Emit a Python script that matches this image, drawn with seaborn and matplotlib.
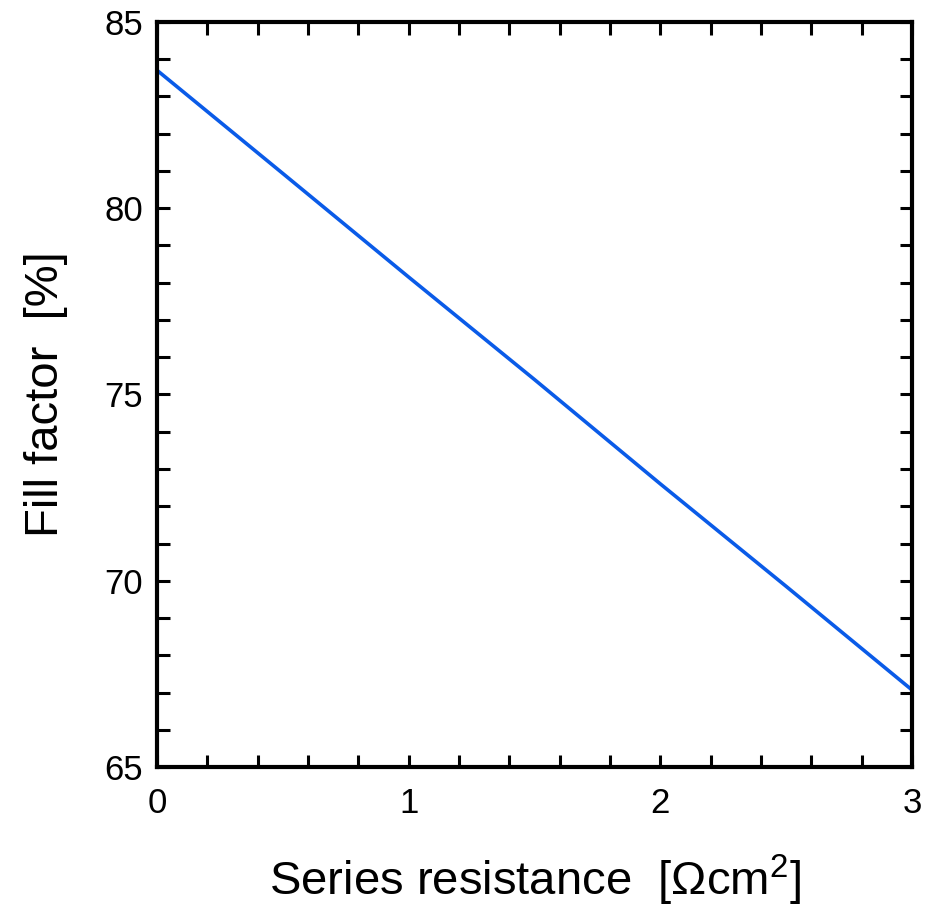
import matplotlib
matplotlib.use("Agg")
import matplotlib.pyplot as plt
import seaborn as sns
import pandas as pd
from matplotlib.ticker import MultipleLocator

series_resistance = [0.0, 0.5, 1.0, 1.5, 2.0, 2.5, 3.0]
fill_factor = [83.7, 80.93, 78.15, 75.4, 72.6, 69.85, 67.07]
x_ticks = [0, 1, 2, 3]
y_ticks = [65, 70, 75, 80, 85]

sns.set_style("ticks")
plt.rcParams['font.family'] = ['Liberation Sans', 'DejaVu Sans']
plt.rcParams['mathtext.fontset'] = 'custom'
plt.rcParams['mathtext.rm'] = 'Liberation Sans'
plt.rcParams['mathtext.it'] = 'Liberation Sans'
plt.rcParams['text.color'] = 'black'
plt.rcParams['axes.labelcolor'] = 'black'
plt.rcParams['xtick.color'] = 'black'
plt.rcParams['ytick.color'] = 'black'

df = pd.DataFrame({"Rs": series_resistance, "FF": fill_factor})

fig = plt.figure(figsize=(9.32, 9.11), dpi=100)
ax = fig.add_axes([0.1685, 0.158, 0.81, 0.818])
sns.lineplot(data=df, x="Rs", y="FF", ax=ax, color="#0a5be8", linewidth=2.6)

ax.set_xlim(0, 3)
ax.set_ylim(65, 85)
ax.set_xticks(x_ticks)
ax.set_yticks(y_ticks)
ax.xaxis.set_minor_locator(MultipleLocator(0.2))
ax.yaxis.set_minor_locator(MultipleLocator(1))
for s in ax.spines.values():
    s.set_visible(True)
    s.set_linewidth(3)
    s.set_color("black")
ax.tick_params(which="both", direction="in", top=True, right=True,
               length=9, width=2.2, color="black", labelcolor="black")
ax.tick_params(axis="x", which="major", labelsize=25, pad=14)
ax.tick_params(axis="y", which="major", labelsize=25, pad=10)

ax.set_xlabel(r"Series resistance  [Ωcm$^{\mathregular{2}}$]", fontsize=34, labelpad=24, color="black")
ax.set_ylabel("Fill factor  [%]", fontsize=34, labelpad=26, color="black")

fig.savefig("out.png", dpi=100)
